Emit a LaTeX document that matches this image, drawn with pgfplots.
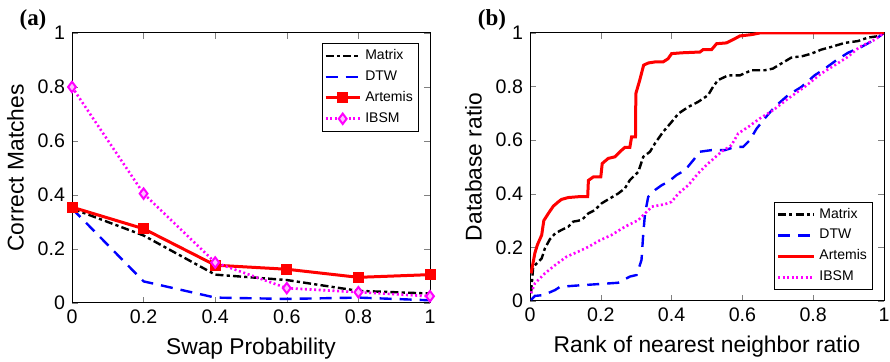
\documentclass[border=0pt]{standalone}
\usepackage{fontspec}
\setmainfont{Liberation Sans}
\newfontfamily\serifb{Liberation Serif}
\usepackage{pgfplots}
\pgfplotsset{compat=1.18}
\definecolor{mred}{RGB}{255,0,0}
\definecolor{mblue}{RGB}{0,0,255}
\definecolor{mmag}{RGB}{255,0,255}
\pgfplotsset{
  every axis/.append style={
    scale only axis, width=179pt, height=135pt,
    xmin=0, xmax=1, ymin=0, ymax=1,
    xtick={0,0.2,0.4,0.6,0.8,1}, ytick={0,0.2,0.4,0.6,0.8,1},
    /pgf/number format/assume math mode=true,
    tick label style={font=\fontsize{9.8}{10}\selectfont},
    label style={font=\fontsize{11.4}{12}\selectfont},
    tick align=inside, major tick length=3pt,
    axis line style={line width=0.5pt},
    legend style={font=\fontsize{7}{8.4}\selectfont, draw=black, line width=0.5pt,
      inner sep=1pt, row sep=0pt, cells={anchor=west}},
  },
  matrixs/.style={black, line width=1.2pt, dash pattern=on 4pt off 1.6pt on 1.6pt off 1.6pt},
  dtws/.style={mblue, line width=1.2pt, dash pattern=on 6pt off 4pt},
  artemiss/.style={mred, line width=1.5pt},
  ibsms/.style={mmag, line width=1.3pt, dash pattern=on 1pt off 1.3pt},
}
\begin{document}
\begin{tikzpicture}
\useasboundingbox (0,0) rectangle (445pt,181pt);
\begin{axis}[at={(36pt,29.5pt)}, anchor=south west,
  xlabel={Swap Probability}, ylabel={Correct Matches},
  legend style={at={(rel axis cs:0.97,0.963)}, anchor=north east, legend columns=1},
  legend image code/.code={\draw[#1] (0cm,0cm) -- (0.6cm,0cm); \path[#1,solid] plot coordinates {(0.3cm,0cm)};},
]
\addplot[matrixs] coordinates {(0,0.35) (0.2,0.25) (0.4,0.105) (0.6,0.085) (0.8,0.045) (1,0.035)};
\addlegendentry{Matrix}
\addplot[dtws] coordinates {(0,0.35) (0.2,0.08) (0.4,0.02) (0.6,0.015) (0.8,0.02) (1,0.01)};
\addlegendentry{DTW}
\addplot[artemiss, mark=square*, mark size=2pt, mark options={solid, fill=mred}] coordinates {(0,0.355) (0.2,0.275) (0.4,0.14) (0.6,0.125) (0.8,0.095) (1,0.105)};
\addlegendentry{Artemis}
\addplot[ibsms, mark=diamond*, mark size=2.6pt, mark options={solid, fill=mmag!25, draw=mmag, line width=1pt}] coordinates {(0,0.80) (0.2,0.405) (0.4,0.15) (0.6,0.055) (0.8,0.04) (1,0.025)};
\addlegendentry{IBSM}
\end{axis}
\node[font=\serifb\bfseries\fontsize{11.5}{12}\selectfont] at (16.5pt,171pt) {(a)};
\node[font=\serifb\bfseries\fontsize{11.5}{12}\selectfont] at (246pt,171pt) {(b)};
\begin{axis}[at={(265pt,30.5pt)}, anchor=south west, width=177pt, height=134pt,
  xlabel={Rank of nearest neighbor ratio}, ylabel={Database ratio},
  legend style={at={(rel axis cs:0.97,0.04)}, anchor=south east},
  legend image code/.code={\draw[#1] (0cm,0cm) -- (0.63cm,0cm);},
]
\addplot[matrixs] coordinates {(0.003,0.029) (0.009,0.128) (0.019,0.14) (0.033,0.159) (0.042,0.196) (0.056,0.23) (0.071,0.252) (0.089,0.265) (0.108,0.277) (0.122,0.296) (0.146,0.302) (0.165,0.327) (0.183,0.339) (0.202,0.364) (0.226,0.383) (0.249,0.401) (0.268,0.42) (0.282,0.451) (0.306,0.482) (0.32,0.538) (0.339,0.557) (0.353,0.588) (0.376,0.631) (0.4,0.668) (0.419,0.699) (0.447,0.724) (0.475,0.743) (0.503,0.768) (0.517,0.799) (0.531,0.824) (0.56,0.842) (0.593,0.842) (0.626,0.861) (0.663,0.861) (0.686,0.867) (0.71,0.886) (0.738,0.908) (0.771,0.914) (0.795,0.923) (0.823,0.938) (0.851,0.948) (0.889,0.963) (0.927,0.97) (0.955,0.983) (0.983,0.988) (1,1)};
\addlegendentry{Matrix}
\addplot[dtws] coordinates {(0.003,0.004) (0.014,0.019) (0.038,0.022) (0.071,0.041) (0.085,0.053) (0.136,0.058) (0.193,0.063) (0.249,0.068) (0.282,0.091) (0.301,0.097) (0.315,0.153) (0.32,0.252) (0.325,0.327) (0.334,0.389) (0.353,0.414) (0.372,0.432) (0.391,0.445) (0.414,0.47) (0.438,0.488) (0.461,0.525) (0.48,0.557) (0.513,0.563) (0.551,0.563) (0.579,0.575) (0.602,0.575) (0.621,0.6) (0.64,0.643) (0.663,0.681) (0.691,0.724) (0.729,0.768) (0.767,0.799) (0.804,0.842) (0.833,0.867) (0.865,0.898) (0.898,0.926) (0.936,0.948) (0.974,0.975) (1,1)};
\addlegendentry{DTW}
\addplot[artemiss] coordinates {(0.003,0.103) (0.014,0.18) (0.021,0.21) (0.033,0.246) (0.039,0.30) (0.052,0.327) (0.066,0.354) (0.08,0.37) (0.089,0.379) (0.108,0.386) (0.136,0.389) (0.163,0.389) (0.165,0.45) (0.179,0.463) (0.2,0.463) (0.204,0.513) (0.221,0.532) (0.24,0.538) (0.254,0.557) (0.268,0.573) (0.282,0.573) (0.287,0.612) (0.298,0.612) (0.299,0.774) (0.31,0.824) (0.321,0.88) (0.334,0.888) (0.353,0.892) (0.376,0.892) (0.39,0.904) (0.40,0.923) (0.428,0.926) (0.48,0.929) (0.489,0.938) (0.513,0.938) (0.527,0.96) (0.555,0.963) (0.579,0.979) (0.593,0.989) (0.626,0.994) (0.649,1.0) (1,1)};
\addlegendentry{Artemis}
\addplot[ibsms] coordinates {(0.003,0.029) (0.014,0.066) (0.042,0.103) (0.071,0.134) (0.103,0.165) (0.136,0.184) (0.165,0.202) (0.198,0.227) (0.23,0.246) (0.268,0.277) (0.306,0.302) (0.325,0.327) (0.344,0.352) (0.381,0.361) (0.40,0.37) (0.419,0.401) (0.447,0.432) (0.475,0.476) (0.503,0.513) (0.541,0.557) (0.569,0.581) (0.588,0.625) (0.617,0.65) (0.649,0.681) (0.687,0.712) (0.729,0.755) (0.776,0.799) (0.823,0.849) (0.861,0.88) (0.898,0.911) (0.931,0.948) (0.974,0.975) (1,1)};
\addlegendentry{IBSM}
\end{axis}
\end{tikzpicture}
\end{document}
